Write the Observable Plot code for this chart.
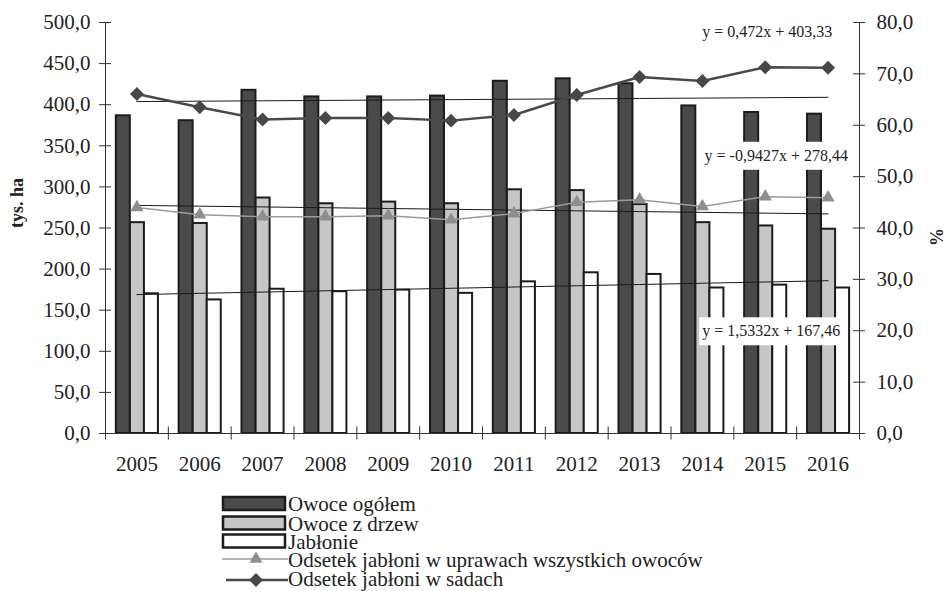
<!DOCTYPE html>
<html><head><meta charset="utf-8">
<script src="https://cdn.jsdelivr.net/npm/d3@7"></script>
<script src="https://cdn.jsdelivr.net/npm/@observablehq/plot@0.6"></script>
<style>
body{margin:0;background:#fff;width:946px;height:591px;overflow:hidden;font-family:'Liberation Serif','DejaVu Serif',serif;}
#chart{position:relative;width:946px;height:591px;}
#chart svg{display:block;}
#chart svg text{font-family:'Liberation Serif','DejaVu Serif',serif !important;}
</style></head><body><div id="chart"></div>
<script>
// ---- data ----
const years = ["2005","2006","2007","2008","2009","2010","2011","2012","2013","2014","2015","2016"];
const owoceOgolem = [386.5,380.5,417.5,409.5,409.5,410.5,428.5,431.5,425.5,398.5,390.5,388.5];
const owoceZDrzew = [256.5,255.5,286.5,279.5,281.5,279.5,296.5,295.5,278.5,256.5,252.5,248.5];
const jablonie = [170,162.5,175.5,172.5,174.5,170.5,184.5,195.5,193.5,177,180.5,177];
const odsetekUprawy = [44.0,42.6,42.2,42.2,42.4,41.6,42.8,45.0,45.5,44.2,46.1,45.9];
const odsetekSady = [66.1,63.5,61.1,61.4,61.4,60.9,62.0,65.9,69.4,68.6,71.3,71.2];
const leftTicks = [0,50,100,150,200,250,300,350,400,450,500];
const rightTicks = [0,10,20,30,40,50,60,70,80];
const trendSlopes = [0.472,-0.9427,1.5332];
const trendIntercepts = [403.33,278.44,167.46];
const trendLabels = ["y = 0,472x + 403,33","y = -0,9427x + 278,44","y = 1,5332x + 167,46"];
const seriesNames = ["Owoce ogółem","Owoce z drzew","Jabłonie","Odsetek jabłoni w uprawach wszystkich owoców","Odsetek jabłoni w sadach"];

// ---- layout / style ----
const W=946, H=480, mL=105, mR=87, mT=22, mB=47;
const innerW = W-mL-mR, bw = innerW/years.length;
const K = 500/80;            // right axis (%) mapped onto left axis units
const barW = 14, inset = (bw-barW)/2;
const fmt = v => v.toFixed(1).replace(".", ",");
const FONT = "'Liberation Serif','DejaVu Serif',serif";
const DARK="#4a4a4a", GREY="#c6c6c6", EDGE="#1c1c1c";

const rows = years.map((year,i)=>({year, ogolem: owoceOgolem[i], drzew: owoceZDrzew[i], jab: jablonie[i],
  uprawy: odsetekUprawy[i]*K, sady: odsetekSady[i]*K}));
const trendRows = trendSlopes.flatMap((s,j)=> years.map((year,i)=>({series:j, year, y: trendIntercepts[j]+s*(i+1)})));
// annotation placement (not data)
const labelPos = [{year:"2015", y:488, dx:2},{year:"2015", y:338, dx:11},{year:"2015", y:124.5, dx:6}];
const labelMarks = trendLabels.map((t,j)=> Plot.text([t], {text:d=>d, x:()=>labelPos[j].year, y:()=>labelPos[j].y,
  dx:labelPos[j].dx, fontSize:16, fill:"#222"}));

const plot = Plot.plot({
  width: W, height: H, marginLeft: mL, marginRight: mR, marginTop: mT, marginBottom: mB,
  style: {fontFamily: FONT, fontSize: "21px", color: "#222", background: "#fff"},
  x: {type: "band", domain: years, padding: 0, round: false},
  y: {domain: [0,500]},
  marks: [
    Plot.barY(rows, {x:"year", y:"ogolem", fill:DARK, stroke:EDGE, strokeWidth:2, insetLeft:inset, insetRight:inset, dx:-13.6}),
    Plot.barY(rows, {x:"year", y:"drzew", fill:GREY, stroke:EDGE, strokeWidth:2, insetLeft:inset, insetRight:inset, dx:0.5}),
    Plot.barY(rows, {x:"year", y:"jab", fill:"#fff", stroke:EDGE, strokeWidth:2, insetLeft:inset, insetRight:inset, dx:14.5}),
    Plot.line(trendRows, {x:"year", y:"y", z:"series", stroke:"#1a1a1a", strokeWidth:1}),
    Plot.line(rows, {x:"year", y:"uprawy", stroke:"#9a9a9a", strokeWidth:1.5}),
    Plot.dot(rows, {x:"year", y:"uprawy", symbol:"triangle", r:4.9, fill:"#8e8e8e", stroke:"none"}),
    Plot.line(rows, {x:"year", y:"sady", stroke:DARK, strokeWidth:2.5}),
    Plot.dot(rows, {x:"year", y:"sady", symbol:"diamond2", r:6.3, fill:"#474747", stroke:"none"}),
    // axes lines and ticks
    Plot.ruleY([0], {stroke:"#333", strokeWidth:1}),
    Plot.ruleX([years[0]], {dx:-bw/2, y1:0, y2:500, stroke:"#333", strokeWidth:1}),
    Plot.ruleX([years[years.length-1]], {dx:bw/2, y1:0, y2:500, stroke:"#333", strokeWidth:1}),
    Plot.ruleX(years, {dx:-bw/2, y1:-8, y2:8, stroke:"#333", strokeWidth:1}),
    Plot.ruleX([years[years.length-1]], {dx:bw/2, y1:-8, y2:8, stroke:"#333", strokeWidth:1}),
    Plot.ruleY(leftTicks, {insetLeft:-6, insetRight:innerW-6, stroke:"#333", strokeWidth:1}),
    Plot.ruleY(rightTicks.map(v=>v*K), {insetLeft:innerW-6, insetRight:-6, stroke:"#333", strokeWidth:1}),
    Plot.axisY({ticks: leftTicks, tickFormat: fmt, tickSize:0, tickPadding:15, fontSize:21, label:null}),
    Plot.axisY({anchor:"right", ticks: rightTicks.map(v=>v*K), tickFormat: d=>fmt(d/K), tickSize:0, tickPadding:17, fontSize:21, label:null}),
    Plot.axisX({tickSize:0, tickPadding:23, fontSize:21, label:null}),
    Plot.text(["tys. ha"], {text:d=>d, frameAnchor:"left", dx:-88, rotate:-90, fontWeight:"bold", fontSize:18, fill:"#222"}),
    Plot.text(["%"], {text:d=>d, frameAnchor:"right", dx:78, rotate:-90, fontWeight:"bold", fontSize:18, fill:"#222"}),
    ...labelMarks
  ]
});
const chart = document.getElementById("chart");
chart.append(plot);

// white boxes behind the trend equations
plot.querySelectorAll("text").forEach(el => {
  if (!trendLabels.includes(el.textContent)) return;
  const bb = el.getBBox();
  const rect = document.createElementNS("http://www.w3.org/2000/svg","rect");
  rect.setAttribute("x", bb.x-3); rect.setAttribute("y", bb.y-5);
  rect.setAttribute("width", bb.width+6); rect.setAttribute("height", bb.height+10);
  rect.setAttribute("fill","#fff"); rect.setAttribute("stroke","none");
  const tr = el.getAttribute("transform"); if (tr) rect.setAttribute("transform", tr);
  el.parentNode.insertBefore(rect, el);
});

// ---- legend ----
const lg = d3.select(chart).append("svg").attr("width",W).attr("height",111)
  .style("font-family",FONT).style("font-size","21px");
const base = [31,50.5,68.5,87,106];
const fills = [DARK, GREY, "#fff"];
for (let i=0;i<3;i++){
  lg.append("rect").attr("x",223).attr("y",base[i]-14).attr("width",62).attr("height",13)
    .attr("fill",fills[i]).attr("stroke",EDGE).attr("stroke-width",2.5);
}
lg.append("line").attr("x1",222).attr("x2",288).attr("y1",base[3]-8).attr("y2",base[3]-8).attr("stroke","#9a9a9a").attr("stroke-width",1.5);
lg.append("path").attr("d", d3.symbol(d3.symbolTriangle, Math.PI*4.9*4.9)()).attr("transform",`translate(256,${base[3]-8})`).attr("fill","#8e8e8e");
lg.append("line").attr("x1",226).attr("x2",288).attr("y1",base[4]-6).attr("y2",base[4]-6).attr("stroke",DARK).attr("stroke-width",2.5);
lg.append("path").attr("d", d3.symbol(d3.symbolDiamond2, Math.PI*6.3*6.3)()).attr("transform",`translate(256,${base[4]-6})`).attr("fill","#474747");
seriesNames.forEach((n,i)=>{
  lg.append("text").attr("x",288).attr("y",base[i]).attr("fill","#222").text(n);
});
</script></body></html>
